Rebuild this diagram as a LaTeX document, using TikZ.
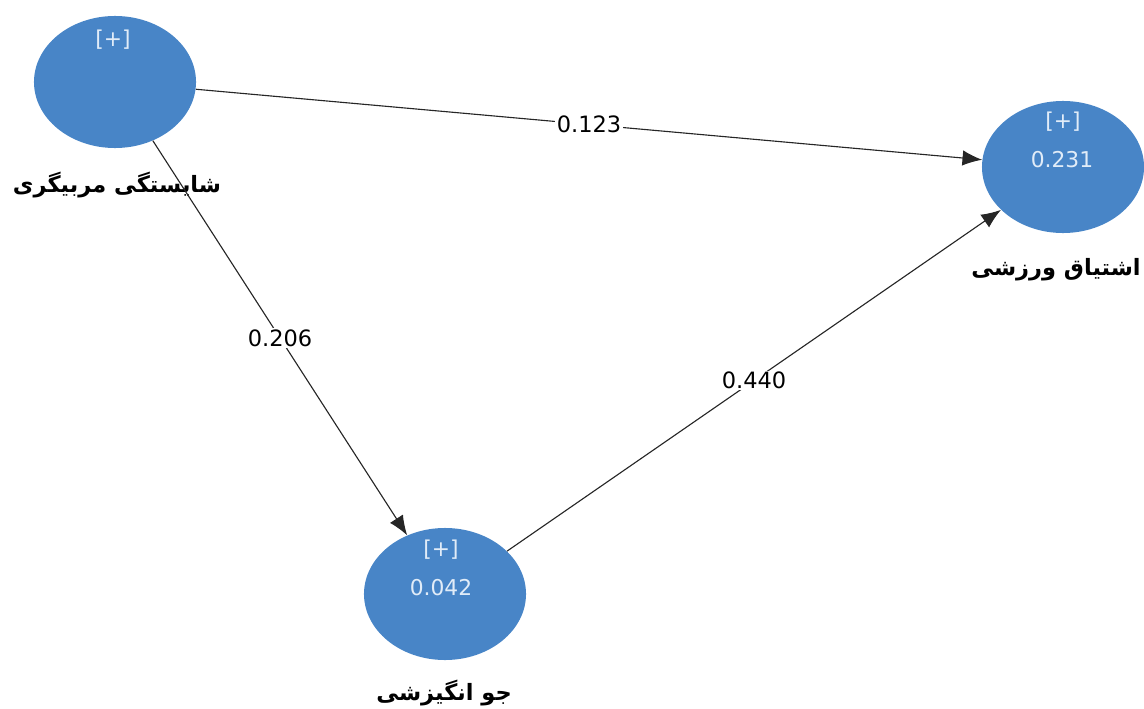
\documentclass[tikz,border=0pt]{standalone}
\usepackage{fontspec}
\setmainfont{DejaVu Sans}
\newfontfamily\farsifont[Script=Arabic]{DejaVu Sans}
\TeXXeTstate=1
\usetikzlibrary{shapes.geometric,arrows.meta}
\definecolor{lvblue}{RGB}{72,133,199}
\definecolor{lvtext}{RGB}{225,236,248}
\begin{document}
\begin{tikzpicture}[x=0.025cm,y=-0.025cm,
  latent/.style={ellipse,fill=lvblue,minimum width=4.05cm,minimum height=3.3cm,inner sep=0pt},
  intext/.style={text=lvtext,font=\fontsize{15.5}{18}\selectfont},
  lvname/.style={font=\farsifont\bfseries\fontsize{16}{19}\selectfont},
  path/.style={draw=black!85,line width=0.8pt,-{Latex[length=14pt,width=11pt]}},
  coef/.style={fill=white,inner sep=1pt,font=\fontsize{16}{19}\selectfont}]

\useasboundingbox (0,0) rectangle (1144,709);

%coaching competence
\node[latent] (coach) at (115,82) {};
\node[intext] (coachplus) at (113,40) {[+]};
\node[lvname] (coachname) at (117,185) {\beginR شایستگی مربیگری\endR};

%sport engagement
\node[latent] (engage) at (1063,167) {};
\node[intext] (engageplus) at (1063,122) {[+]};
\node[intext] (engager) at (1062,160) {0.231};
\node[lvname] (engagename) at (1056,270) {\beginR اشتیاق ورزشی\endR};

%motivational climate
\node[latent] (climate) at (445,594) {};
\node[intext] (climateplus) at (441,550) {[+]};
\node[intext] (climater) at (441,588) {0.042};
\node[lvname] (climatename) at (444,693) {\beginR جو انگیزشی\endR};

%paths
\draw[path] (coach) -- node[coef] {0.123} (engage);
\draw[path] (coach) -- node[coef] {0.206} (climate);
\draw[path] (climate) -- node[coef] {0.440} (engage);

\end{tikzpicture}
\end{document}
